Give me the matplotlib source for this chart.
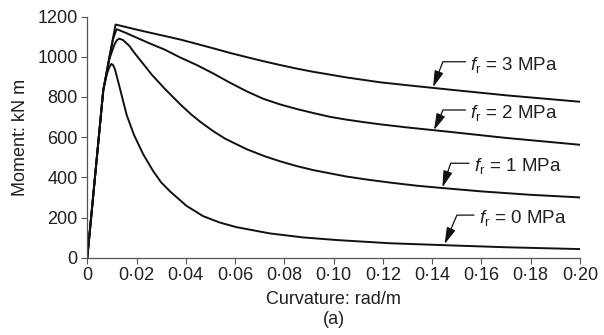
import matplotlib
matplotlib.use("Agg")
import matplotlib.pyplot as plt
import numpy as np

plt.rcParams["font.family"] = ["Liberation Sans", "DejaVu Sans"]
plt.rcParams["mathtext.fontset"] = "custom"
plt.rcParams["mathtext.rm"] = "Liberation Sans"
plt.rcParams["mathtext.it"] = "Liberation Sans:italic"

TEXT_COLOR = "#231f20"

# 读图估计的弯矩-曲率曲线 (curvature rad/m, moment kN m)
curv_fr0 = [0, 0.0065, 0.0080, 0.0090, 0.0098, 0.0105, 0.0113, 0.0133, 0.0160,
            0.0190, 0.0227, 0.0268, 0.0300, 0.0336, 0.0403, 0.0470, 0.0538,
            0.0606, 0.0741, 0.0876, 0.1012, 0.1228, 0.1458, 0.1700, 0.2000]
moment_fr0 = [0, 834, 915, 950, 964, 958, 935, 840, 710,
              610, 515, 430, 375, 330, 258, 207, 175,
              152, 121, 101, 88, 72, 62, 52, 43]

curv_fr1 = [0, 0.0065, 0.0090, 0.0110, 0.0120, 0.0130, 0.0145, 0.0170, 0.0194,
            0.0230, 0.0261, 0.0315, 0.0376, 0.0420, 0.0458, 0.0511, 0.0560,
            0.0647, 0.0720, 0.0782, 0.0850, 0.0917, 0.1052, 0.1140, 0.1228,
            0.1340, 0.1458, 0.1600, 0.1800, 0.2000]
moment_fr1 = [0, 834, 990, 1060, 1082, 1090, 1083, 1055, 1015,
              960, 912, 840, 765, 715, 677, 630, 592,
              540, 505, 480, 456, 436, 404, 388, 374,
              358, 345, 330, 313, 300]

curv_fr2 = [0, 0.0065, 0.0090, 0.0105, 0.0119, 0.0150, 0.0200, 0.0250, 0.0315,
            0.0376, 0.0444, 0.0511, 0.0579, 0.0647, 0.0714, 0.0782, 0.0850,
            0.0917, 0.0985, 0.1052, 0.1120, 0.1187, 0.1300, 0.1458, 0.1700,
            0.2000]
moment_fr2 = [0, 834, 995, 1090, 1137, 1122, 1095, 1068, 1035,
              997, 959, 917, 871, 828, 791, 763, 740,
              720, 701, 687, 675, 664, 648, 628, 596,
              562]

curv_fr3 = [0, 0.0065, 0.0090, 0.0115, 0.0200, 0.0260, 0.0315, 0.0376, 0.0444,
            0.0511, 0.0579, 0.0647, 0.0714, 0.0782, 0.0850, 0.0917, 0.0985,
            0.1052, 0.1120, 0.1187, 0.1300, 0.1458, 0.1700, 0.2000]
moment_fr3 = [0, 834, 1000, 1160, 1135, 1118, 1103, 1086, 1064,
              1042, 1019, 998, 978, 959, 941, 925, 911,
              897, 885, 873, 858, 838, 808, 776]

curves = [
    (curv_fr0, moment_fr0),
    (curv_fr1, moment_fr1),
    (curv_fr2, moment_fr2),
    (curv_fr3, moment_fr3),
]

# 标注：文字、箭头尖端、水平线右端、斜线角度
labels = [r"$f_{\mathrm{r}}$ = 3 MPa", r"$f_{\mathrm{r}}$ = 2 MPa",
          r"$f_{\mathrm{r}}$ = 1 MPa", r"$f_{\mathrm{r}}$ = 0 MPa"]
label_tips = [(0.1404, 848), (0.1408, 635), (0.1442, 350), (0.1451, 68)]
label_starts = [(0.1536, 975), (0.1536, 735), (0.1550, 470), (0.1570, 212)]
label_angles = [69, 66, 71, 67]

xticks = np.arange(0, 0.201, 0.02)
xtick_labels = ["0"] + [f"{v:.2f}".replace(".", "·") for v in xticks[1:]]
yticks = np.arange(0, 1201, 200)

fig = plt.figure(figsize=(6.04, 3.35), dpi=100)
ax = fig.add_axes([0.1445, 0.2307, 0.8155, 0.72])

for curv, moment in curves:
    ax.plot(curv, moment, color="#111111", lw=1.4, solid_joinstyle="round")

for text, tip, start, angle in zip(labels, label_tips, label_starts, label_angles):
    ax.annotate(
        "", xy=tip, xytext=start,
        arrowprops=dict(
            arrowstyle="-|>,head_length=1.0,head_width=0.28",
            connectionstyle=f"angle,angleA=180,angleB={angle},rad=0",
            shrinkA=0, shrinkB=0, color="#111111", lw=0.9,
        ),
    )
    ax.text(start[0] + 0.0020, start[1] - 14, text, ha="left", va="center",
            fontsize=13.5, color=TEXT_COLOR)

ax.set_xlim(0, 0.20)
ax.set_ylim(0, 1200)
ax.set_xticks(xticks)
ax.set_xticklabels(xtick_labels)
ax.set_yticks(yticks)
ax.tick_params(direction="out", length=4, width=0.8, colors="#555555",
               labelcolor=TEXT_COLOR, labelsize=13, pad=3)
for side in ["top", "right"]:
    ax.spines[side].set_visible(False)
for side in ["left", "bottom"]:
    ax.spines[side].set_color("#555555")
    ax.spines[side].set_linewidth(0.9)

ax.set_xlabel("Curvature: rad/m", fontsize=13, color=TEXT_COLOR, labelpad=5)
ax.set_ylabel("Moment: kN m", fontsize=13, color=TEXT_COLOR, labelpad=6)
fig.text(0.5522, 1 - 319 / 335, "(a)", ha="center", va="center",
         fontsize=13, color=TEXT_COLOR)

fig.savefig("out.png", dpi=100)
